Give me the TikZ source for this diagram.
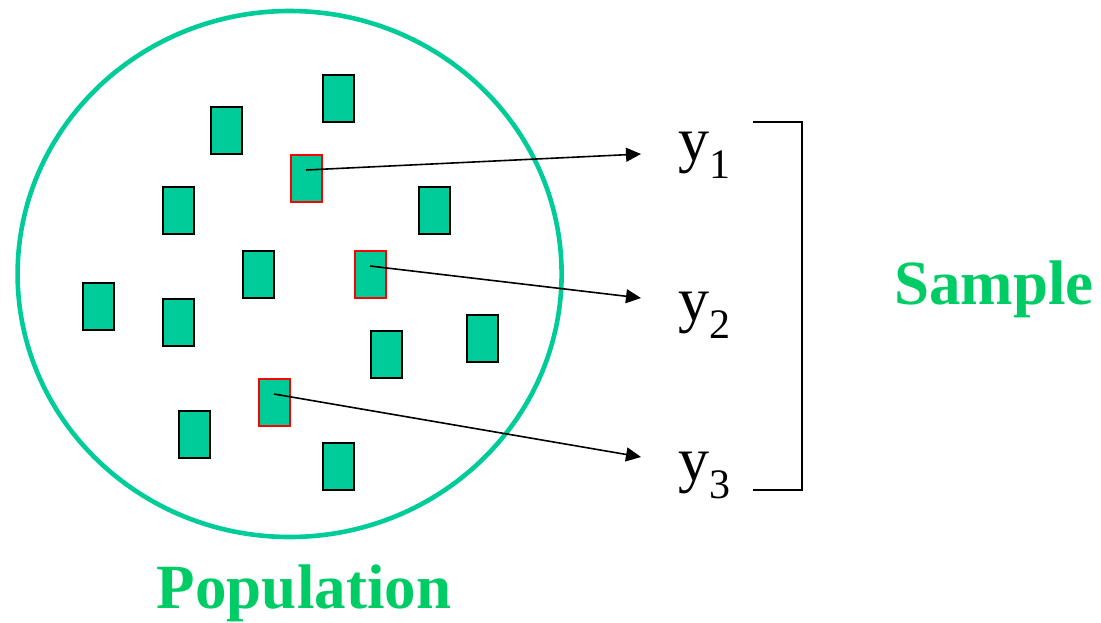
\documentclass[tikz,border=0pt]{standalone}
\usepackage{fontspec}
\setmainfont{Liberation Serif}
\usetikzlibrary{arrows.meta}
\definecolor{unitfill}{RGB}{0,204,153}
\definecolor{ringcol}{RGB}{0,204,153}
\definecolor{titlegreen}{RGB}{0,204,102}
\definecolor{pickred}{RGB}{255,0,0}
\tikzset{
  unit/.style={rectangle, draw=black, line width=2pt, fill=unitfill, minimum width=31pt, minimum height=47pt, inner sep=0pt, outer sep=0pt},
  picked/.style={unit, draw=pickred},
  pick/.style={draw=black, line width=1.6pt, -{Triangle[length=15pt,width=14pt]}},
  ylabel/.style={anchor=base west, inner sep=0pt, font=\fontsize{62pt}{62pt}\selectfont},
  title/.style={anchor=base, inner sep=0pt, text=titlegreen, font=\fontsize{63pt}{63pt}\selectfont\bfseries},
  bracketline/.style={draw=black, line width=2pt}
}
\newcommand{\subs}[1]{\raisebox{-18pt}{\fontsize{42pt}{42pt}\selectfont #1}}
\begin{document}
\begin{tikzpicture}[x=1pt,y=-1pt]
\useasboundingbox (0,0) rectangle (1101,622);
% population ring
\draw[ringcol, line width=4.6pt] (289.6,274) ellipse [x radius=272, y radius=263];
% units
\node[unit]   (r1)  at (338,98)  {};
\node[unit]   (r2)  at (226,130) {};
\node[picked] (r3)  at (306,178) {};
\node[unit]   (r4)  at (178,210) {};
\node[unit]   (r5)  at (434,210) {};
\node[unit]   (r6)  at (258,274) {};
\node[picked] (r7)  at (370,274) {};
\node[unit]   (r8)  at (98,306)  {};
\node[unit]   (r9)  at (178,322) {};
\node[unit]   (r10) at (482,338) {};
\node[unit]   (r11) at (386,354) {};
\node[picked] (r12) at (274,402) {};
\node[unit]   (r13) at (194,434) {};
\node[unit]   (r14) at (338,466) {};
% sample labels
\node[ylabel] (y1) at (678,160) {y\subs{1}};
\node[ylabel] (y2) at (678,320) {y\subs{2}};
\node[ylabel] (y3) at (678,480) {y\subs{3}};
% arrow ends
\coordinate (t1) at (641,154);
\coordinate (t2) at (641,298);
\coordinate (t3) at (641,457);
\draw[pick] ([yshift=8pt]r3.center) -- (t1);
\draw[pick] ([yshift=8pt]r7.center) -- (t2);
\draw[pick] ([yshift=8pt]r12.center) -- (t3);
% bracket
\coordinate (b1) at (753,122);
\coordinate (b2) at (802,122);
\coordinate (b3) at (802,490);
\coordinate (b4) at (753,490);
\draw[bracketline] (b1) -- (b2) -- (b3) -- (b4);
% titles
\node[title] (sample) at (994,304) {Sample};
\node[title] (population) at (304,608) {Population};
\end{tikzpicture}
\end{document}
